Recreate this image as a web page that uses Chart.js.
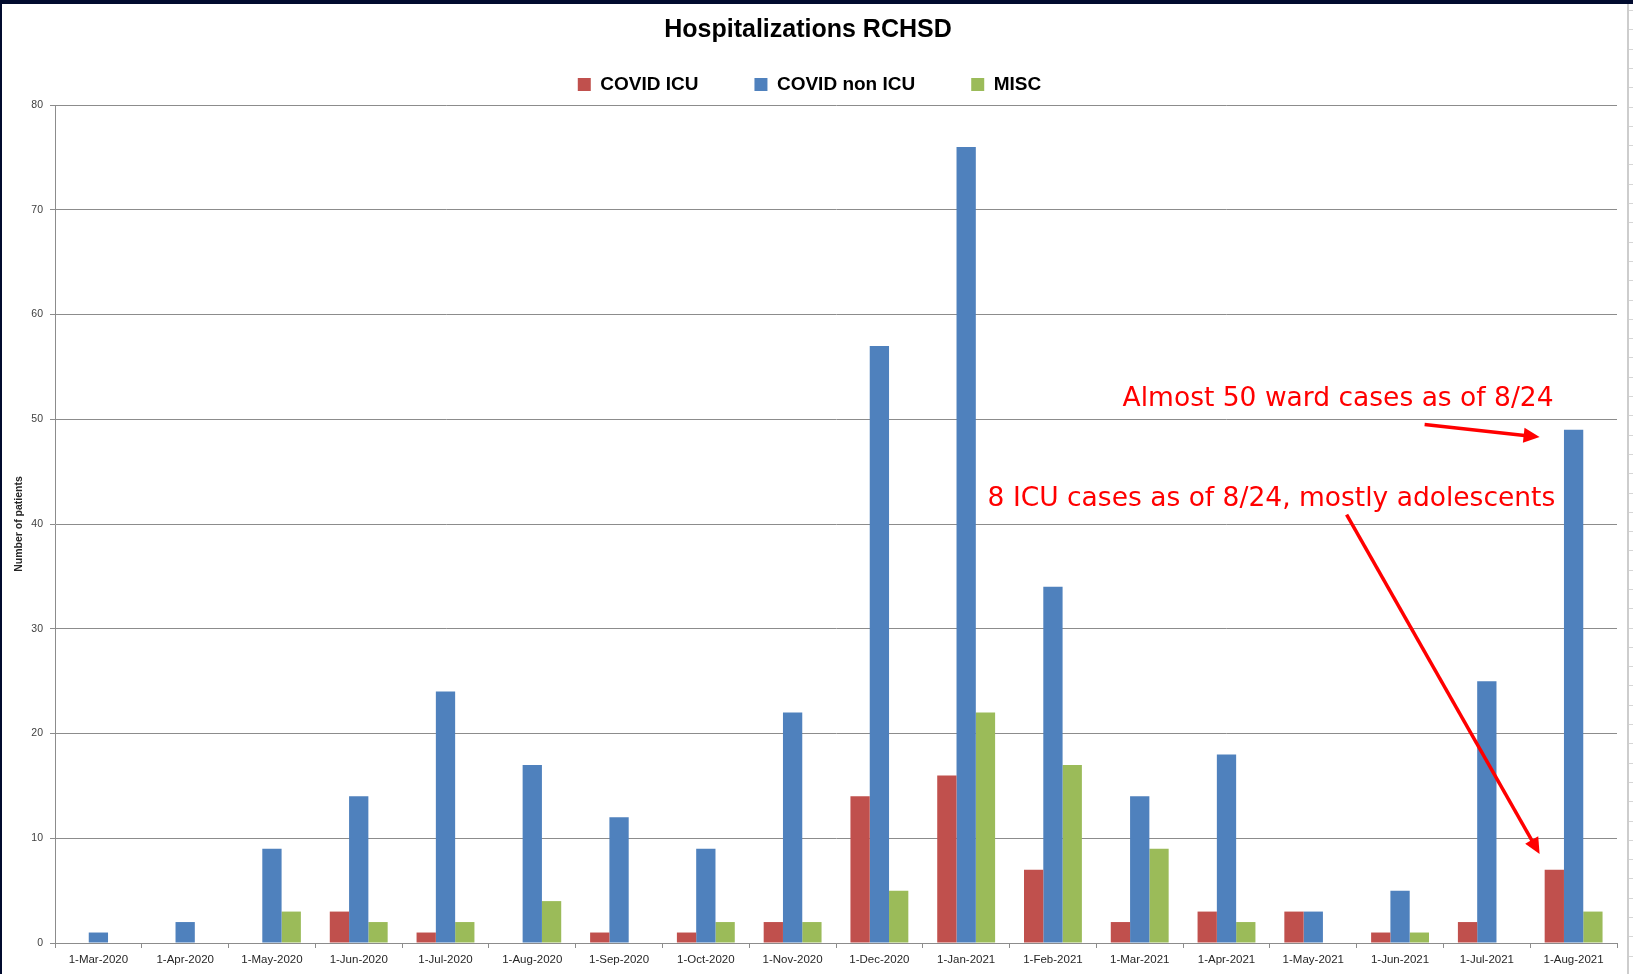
<!DOCTYPE html>
<html>
<head>
<meta charset="utf-8">
<title>Hospitalizations RCHSD</title>
<script src="https://cdn.jsdelivr.net/npm/chart.js@4.4.1/dist/chart.umd.min.js"></script>
<style>
  html, body { margin: 0; padding: 0; background: #ffffff; overflow: hidden; }
  #frame {
    width: 1631px;
    height: 970px;
    border-top: 4px solid #010b2e;
    border-left: 2px solid #010b2e;
  }
  #chart { display: block; }
</style>
</head>
<body>
<div id="frame">
  <canvas id="chart" width="1631" height="970"></canvas>
</div>
<script>
const months = [
  "1-Mar-2020", "1-Apr-2020", "1-May-2020", "1-Jun-2020", "1-Jul-2020", "1-Aug-2020",
  "1-Sep-2020", "1-Oct-2020", "1-Nov-2020", "1-Dec-2020", "1-Jan-2021", "1-Feb-2021",
  "1-Mar-2021", "1-Apr-2021", "1-May-2021", "1-Jun-2021", "1-Jul-2021", "1-Aug-2021"
];
const covidIcu    = [0, 0, 0, 3, 1, 0, 1, 1, 2, 14, 16, 7, 2, 3, 3, 1, 2, 7];
const covidNonIcu = [1, 2, 9, 14, 24, 17, 12, 9, 22, 57, 76, 34, 14, 18, 3, 5, 25, 49];
const misc        = [0, 0, 3, 2, 2, 4, 0, 2, 2, 5, 22, 17, 9, 2, 0, 1, 0, 3];

const yTicks = [0, 10, 20, 30, 40, 50, 60, 70, 80];

const gridGray = "#8c8c8c";

// legend needs a px more room under it than chart.js gives
const legendGap = {
  id: "legendGap",
  beforeLayout(chart) {
    const legend = chart.legend;
    if (legend && !legend._gapPatched) {
      const fit = legend.fit;
      legend.fit = function () {
        fit.call(this);
        this.height += 1;
      };
      legend._gapPatched = true;
    }
  }
};

function arrow(ctx, x1, y1, x2, y2) {
  const ang = Math.atan2(y2 - y1, x2 - x1);
  const head = 16;
  const half = 7.5;
  ctx.beginPath();
  ctx.moveTo(x1, y1);
  ctx.lineTo(x2 - Math.cos(ang) * head * 0.8, y2 - Math.sin(ang) * head * 0.8);
  ctx.stroke();
  ctx.beginPath();
  ctx.moveTo(x2, y2);
  ctx.lineTo(x2 - Math.cos(ang) * head + Math.sin(ang) * half,
             y2 - Math.sin(ang) * head - Math.cos(ang) * half);
  ctx.lineTo(x2 - Math.cos(ang) * head - Math.sin(ang) * half,
             y2 - Math.sin(ang) * head + Math.cos(ang) * half);
  ctx.closePath();
  ctx.fill();
}

const extras = {
  id: "extras",
  afterDraw(chart) {
    const ctx = chart.ctx;
    const xs = chart.scales.x;
    const ys = chart.scales.y;
    const last = xs.getPixelForValue(months.length - 1);

    ctx.save();

    // title
    ctx.fillStyle = "#000000";
    ctx.font = "bold 25px 'Liberation Sans', Arial, sans-serif";
    ctx.textAlign = "center";
    ctx.textBaseline = "middle";
    ctx.fillText("Hospitalizations RCHSD", 806, 26);

    // red notes + arrows pointing at the last month
    ctx.fillStyle = "#ff0000";
    ctx.strokeStyle = "#ff0000";
    ctx.lineWidth = 3.5;
    ctx.font = "26.5px 'DejaVu Sans', sans-serif";
    ctx.textAlign = "left";
    ctx.fillText("Almost 50 ward cases as of 8/24", last - 451, ys.getPixelForValue(51.9));
    ctx.fillText("8 ICU cases as of 8/24, mostly adolescents", last - 586, ys.getPixelForValue(42.4));
    arrow(ctx, last - 149, ys.getPixelForValue(49.5), last - 34, ys.getPixelForValue(48.3));
    arrow(ctx, last - 227, ys.getPixelForValue(40.9), last - 34, ys.getPixelForValue(8.5));

    // sheet edge on the right
    ctx.strokeStyle = "#bdbdbd";
    ctx.lineWidth = 1.5;
    ctx.beginPath();
    ctx.moveTo(1626, 0);
    ctx.lineTo(1626, chart.height);
    ctx.stroke();
    ctx.strokeStyle = "#d6d6d6";
    ctx.lineWidth = 1;
    for (let y = 6; y < chart.height; y += 19.3) {
      ctx.beginPath();
      ctx.moveTo(1627, Math.round(y) + 0.5);
      ctx.lineTo(1631, Math.round(y) + 0.5);
      ctx.stroke();
    }

    ctx.restore();
  }
};

new Chart(document.getElementById("chart").getContext("2d"), {
  type: "bar",
  data: {
    labels: months,
    datasets: [
      { label: "COVID ICU", data: covidIcu, backgroundColor: "#c0504d", borderColor: "#c0504d", borderWidth: 0 },
      { label: "COVID non ICU", data: covidNonIcu, backgroundColor: "#4f81bd", borderColor: "#4f81bd", borderWidth: 0 },
      { label: "MISC", data: misc, backgroundColor: "#9bbb59", borderColor: "#9bbb59", borderWidth: 0 }
    ]
  },
  options: {
    responsive: false,
    animation: false,
    devicePixelRatio: 1,
    layout: { padding: { top: 15, right: 16, left: 0, bottom: 0 } },
    datasets: {
      bar: { categoryPercentage: 0.667, barPercentage: 1.0 }
    },
    plugins: {
      title: { display: false },
      tooltip: { enabled: false },
      legend: {
        position: "top",
        labels: {
          boxWidth: 13,
          boxHeight: 13,
          padding: 56,
          color: "#000000",
          font: { family: "'Liberation Sans', Arial, sans-serif", size: 19, weight: "bold" }
        }
      }
    },
    scales: {
      x: {
        offset: true,
        border: { display: true, color: gridGray, width: 1 },
        grid: {
          offset: true,
          drawOnChartArea: false,
          drawTicks: true,
          tickLength: 5,
          color: gridGray
        },
        ticks: {
          autoSkip: false,
          maxRotation: 0,
          padding: 5,
          color: "#262626",
          font: { family: "'Liberation Sans', Arial, sans-serif", size: 11.5 }
        },
        afterFit(scale) { scale.height = 31; }
      },
      y: {
        min: 0,
        max: 80,
        afterBuildTicks(scale) {
          scale.ticks = yTicks.map(v => ({ value: v }));
        },
        border: { display: true, color: gridGray, width: 1 },
        grid: { color: gridGray, tickLength: 5, drawTicks: true },
        ticks: {
          padding: 7,
          color: "#404040",
          font: { family: "'Liberation Sans', Arial, sans-serif", size: 10.5 }
        },
        title: {
          display: true,
          text: "Number of patients",
          color: "#262626",
          padding: { top: 11, bottom: 0 },
          font: { family: "'Liberation Sans', Arial, sans-serif", size: 10.5, weight: "bold" }
        },
        afterFit(scale) { scale.width = 53; }
      }
    }
  },
  plugins: [legendGap, extras]
});
</script>
</body>
</html>
